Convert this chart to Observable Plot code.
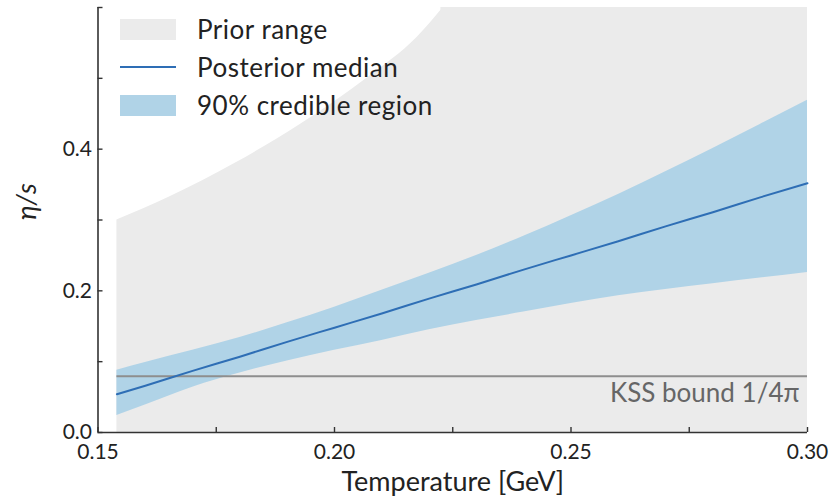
<!DOCTYPE html>
<html>
<head>
<meta charset="utf-8">
<script src="https://cdn.jsdelivr.net/npm/d3@7"></script>
<script src="https://cdn.jsdelivr.net/npm/@observablehq/plot@0.6"></script>
<style>
  html, body { margin: 0; padding: 0; background: #fff; }
  #wrap { position: relative; width: 832px; height: 500px; font-family: Lato, "Open Sans", sans-serif; }
  #legend { position: absolute; left: 0; top: 0; }
  .sw { position: absolute; left: 120px; width: 56px; }
  .lt { position: absolute; left: 197px; font-size: 26px; line-height: 26px; letter-spacing: 0.5px; color: #222; white-space: nowrap; }
</style>
</head>
<body>
<div id="wrap">
  <div id="chart"></div>
  <div id="legend"></div>
</div>
<script>
// Temperature grid (GeV) for the posterior curves
const temperature = [0.154, 0.16, 0.17, 0.18, 0.19, 0.20, 0.21, 0.22, 0.23, 0.24, 0.25, 0.26, 0.27, 0.28, 0.29, 0.30];
// Posterior median of eta/s
const median = [0.054, 0.066, 0.087, 0.107, 0.128, 0.148, 0.168, 0.189, 0.209, 0.230, 0.250, 0.270, 0.291, 0.311, 0.332, 0.352];
// 90% credible region bounds
const lower90 = [0.024, 0.039, 0.064, 0.084, 0.101, 0.116, 0.130, 0.145, 0.158, 0.170, 0.182, 0.193, 0.202, 0.210, 0.218, 0.226];
const upper90 = [0.088, 0.099, 0.116, 0.134, 0.155, 0.177, 0.201, 0.225, 0.250, 0.277, 0.306, 0.336, 0.368, 0.401, 0.435, 0.469];

// Prior range upper edge, up to where it leaves the top of the axes
const priorT = [0.154, 0.165, 0.179, 0.193, 0.207, 0.2175, 0.223];
const priorTop = [0.300, 0.332, 0.380, 0.436, 0.501, 0.558, 0.600];

// KSS bound 1/(4 pi)
const kss = 1 / (4 * Math.PI);

// Axis ticks
const xDomain = [0.15, 0.30];
const yDomain = [0, 0.6];
const xMajor = [0.15, 0.20, 0.25, 0.30];
const xAll = [0.15, 0.175, 0.20, 0.225, 0.25, 0.275, 0.30];
const yMajor = [0.0, 0.2, 0.4];
const yAll = [0.0, 0.1, 0.2, 0.3, 0.4, 0.5, 0.6];

const colors = {
  prior: "#ebebeb",
  band: "#b0d3e7",
  median: "#2e6eb5",
  kss: "#8e8e8e",
  axis: "#333333",
  text: "#222222"
};

const band = temperature.map((t, i) => ({t, lo: lower90[i], hi: upper90[i], med: median[i]}));
const prior = priorT.map((t, i) => ({t, top: priorTop[i]}));
const priorEnd = priorT[priorT.length - 1];

const chart = Plot.plot({
  width: 832,
  height: 500,
  marginLeft: 97.5,
  marginRight: 25,
  marginTop: 7,
  marginBottom: 68,
  style: {fontFamily: "Lato, 'Open Sans', sans-serif", fontSize: "21px", color: colors.text, background: "#fff"},
  x: {domain: xDomain},
  y: {domain: yDomain},
  marks: [
    // prior range: rising edge, then the part above the axes to the right
    Plot.areaY(prior, {x: "t", y1: 0, y2: "top", fill: colors.prior, curve: "monotone-x"}),
    Plot.rectY([0], {x1: priorEnd - 0.0005, x2: xDomain[1], y1: yDomain[0], y2: yDomain[1], fill: colors.prior}),
    Plot.areaY(band, {x: "t", y1: "lo", y2: "hi", fill: colors.band, curve: "monotone-x"}),
    Plot.ruleY([kss], {x1: temperature[0], x2: temperature[temperature.length - 1], stroke: colors.kss, strokeWidth: 2}),
    Plot.lineY(band, {x: "t", y: "med", stroke: colors.median, strokeWidth: 2, curve: "monotone-x"}),
    Plot.text(["KSS bound 1/4π"], {x: xDomain[1], y: kss, text: d => d, textAnchor: "end", dx: -8, dy: 18, fill: "#666", fontSize: 26}),
    // spines
    Plot.ruleX([xDomain[0]], {stroke: colors.axis, strokeWidth: 1.6}),
    Plot.ruleY([yDomain[0]], {stroke: colors.axis, strokeWidth: 1.6}),
    // inward tick marks
    Plot.ruleX(xAll, {y1: yDomain[0], y2: yDomain[0], insetBottom: 5, stroke: colors.axis, strokeWidth: 1.4}),
    Plot.ruleY(yAll, {x1: xDomain[0], x2: xDomain[0], insetRight: -5, stroke: colors.axis, strokeWidth: 1.4}),
    // tick labels
    Plot.axisX({ticks: xMajor, tickSize: 0, tickPadding: 12, tickFormat: ".2f", label: null, fill: colors.text, fontSize: 21}),
    Plot.axisY({ticks: yMajor, tickSize: 0, tickPadding: 6, tickFormat: ".1f", label: null, fill: colors.text, fontSize: 21}),
    // axis titles
    Plot.text(["Temperature [GeV]"], {frameAnchor: "bottom", text: d => d, dy: 58, fontSize: 27, fill: colors.text}),
    Plot.text(["η/s"], {frameAnchor: "left", text: d => d, dx: -71, rotate: -90, fontSize: 27, fontStyle: "italic", fill: colors.text})
  ]
});
document.getElementById("chart").appendChild(chart);

// Legend
const legendItems = [
  {label: "Prior range", kind: "box", color: colors.prior, baseline: 39},
  {label: "Posterior median", kind: "line", color: colors.median, baseline: 77},
  {label: "90% credible region", kind: "box", color: colors.band, baseline: 115}
];
const legend = document.getElementById("legend");
for (const item of legendItems) {
  const sw = document.createElement("div");
  sw.className = "sw";
  sw.style.background = item.color;
  if (item.kind === "box") {
    sw.style.top = (item.baseline - 20) + "px";
    sw.style.height = "21px";
  } else {
    sw.style.top = (item.baseline - 11) + "px";
    sw.style.height = "2px";
  }
  legend.appendChild(sw);
  const lt = document.createElement("div");
  lt.className = "lt";
  lt.textContent = item.label;
  lt.style.top = (item.baseline - 23.1) + "px";
  legend.appendChild(lt);
}
</script>
</body>
</html>
